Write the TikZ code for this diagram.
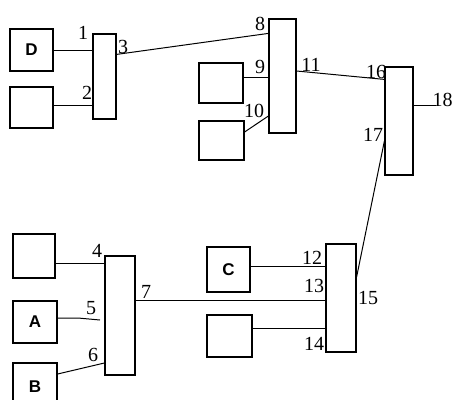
\documentclass[tikz,border=0pt]{standalone}
\usepackage{fontspec}
\setmainfont{Liberation Serif}
\newfontfamily\lettfont{Liberation Sans}
\usetikzlibrary{positioning}
\usetikzlibrary{calc}

\begin{document}
\begin{tikzpicture}[x=1pt, y=-1pt, line width=1pt,
		blk/.style={draw, line width=1.2pt, inner sep=0pt, font=\lettfont\bfseries\fontsize{17}{17}\selectfont},
		num/.style={inner sep=0pt, font=\fontsize{20}{20}\selectfont}]
				\useasboundingbox[fill=white] (0,0) rectangle (454,399);
				% left boxes, top group
				\node[blk, minimum width=43, minimum height=42] (dbox) at (31.5,50) {D};
				\node[blk, minimum width=43, minimum height=41] (ebox) at (31.5,107.5) {};
				\node[blk, minimum width=23, minimum height=85] (rone) at (104.5,76.5) {};
				% middle top group
				\node[blk, minimum width=27, minimum height=114] (rtwo) at (282.5,76) {};
				\node[blk, minimum width=44, minimum height=40] (nbox) at (221,83) {};
				\node[blk, minimum width=45, minimum height=39] (tbox) at (221.5,140.5) {};
				\node[blk, minimum width=28, minimum height=108] (rthree) at (399,121) {};
				% bottom groups
				\node[blk, minimum width=42, minimum height=44] (fbox) at (34,256) {};
				\node[blk, minimum width=44, minimum height=42] (abox) at (35,322) {A};
				\node[blk, minimum width=44, minimum height=47] (bbox) at (35,386.5) {B};
				\node[blk, minimum width=30, minimum height=119] (rfour) at (120,315.5) {};
				\node[blk, minimum width=43, minimum height=45] (cbox) at (228.5,269.5) {C};
				\node[blk, minimum width=45, minimum height=42] (qbox) at (229.5,336) {};
				\node[blk, minimum width=30, minimum height=108] (rfive) at (341,298) {};
				\coordinate (endfive) at (100,320);
				\coordinate (endout) at (436,105);

				\draw (dbox.east) -- (dbox.east -| rone.west);
				\draw ([yshift=2.5pt]ebox.east) -- ([yshift=2.5pt]ebox.east -| rone.west);
				\draw ([yshift=-21pt]rone.north east) -- ([yshift=-15pt]rtwo.north west);
				\draw ([yshift=6pt]nbox.east) -- ([yshift=6pt]nbox.east -| rtwo.west);
				\draw ([yshift=8.5pt]tbox.east) -- ([yshift=-40pt]rtwo.west);
				\draw ([yshift=5pt]rtwo.east) -- ([yshift=-13pt]rthree.north west);
				\draw ([yshift=16pt]rthree.east) -- (endout);
				\draw ([yshift=-20pt]rthree.west) -- ([yshift=21pt]rfive.east);
				\draw ([yshift=-7pt]fbox.east) -- ([yshift=-7pt]fbox.east -| rfour.west);
				\draw ([yshift=4pt]abox.east) -- (78,318) -- (endfive);
				\draw ([yshift=12.5pt]bbox.east) -- ([yshift=-47.5pt]rfour.west);
				\draw ([yshift=15.5pt]rfour.east) -- ([yshift=15.5pt]rfour.east -| rfive.west);
				\draw ([yshift=3.5pt]cbox.east) -- ([yshift=3.5pt]cbox.east -| rfive.west);
				\draw ([yshift=8pt]qbox.east) -- ([yshift=8pt]qbox.east -| rfive.west);

				\node[num] (lone) at (83,33) {1};
				\node[num] (ltwo) at (87,93) {2};
				\node[num] (lthree) at (123,47) {3};
				\node[num] (leight) at (260,24) {8};
				\node[num] (lnine) at (260,67) {9};
				\node[num] (lten) at (254,111) {10};
				\node[num] (leleven) at (311,65) {11};
				\node[num] (lsixteen) at (376,72) {16};
				\node[num, anchor=east] (leighteen) at (453,100) {18};
				\node[num] (lseventeen) at (373,135) {17};
				\node[num] (lfour) at (97,251) {4};
				\node[num] (lfive) at (91,308) {5};
				\node[num] (lsix) at (93,355) {6};
				\node[num] (lseven) at (146,292) {7};
				\node[num] (ltwelve) at (312,258) {12};
				\node[num] (lthirteen) at (314,286) {13};
				\node[num] (lfourteen) at (314,344) {14};
				\node[num] (lfifteen) at (368,298) {15};
		    \end{tikzpicture}
\end{document}
